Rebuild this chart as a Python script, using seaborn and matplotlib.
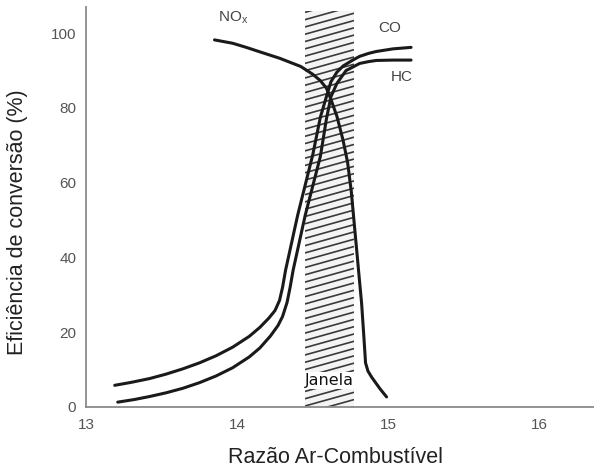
import numpy as np
import pandas as pd
import matplotlib
matplotlib.use("Agg")
import matplotlib.pyplot as plt
from matplotlib.patches import Rectangle
import seaborn as sns

# Conversion efficiency (%) of a three-way catalyst versus air-fuel ratio
nox_x = [13.85, 13.97, 14.06, 14.15, 14.28, 14.42, 14.50, 14.55, 14.59, 14.62,
         14.66, 14.70, 14.73, 14.755, 14.78, 14.805, 14.823, 14.838, 14.849,
         14.865, 14.889, 14.944, 14.988]
nox_y = [98.2, 97.3, 96.2, 95.0, 93.3, 91.1, 89.0, 87.3, 85.3, 82.3,
         77.7, 71.4, 65.5, 57.5, 46.5, 35.5, 27.7, 18.7, 11.8,
         9.6, 8.0, 4.9, 2.7]

co_x = [13.19, 13.30, 13.42, 13.53, 13.64, 13.75, 13.86, 13.97, 14.08, 14.15,
        14.21, 14.25, 14.28, 14.30, 14.32, 14.40, 14.50, 14.55, 14.59, 14.62,
        14.66, 14.70, 14.76, 14.81, 14.87, 14.92, 15.03, 15.15]
co_y = [5.8, 6.6, 7.6, 8.8, 10.2, 11.8, 13.7, 16.0, 18.9, 21.3,
        23.8, 25.8, 28.5, 32.0, 36.6, 51.3, 67.5, 77.5, 83.0, 87.0,
        89.6, 91.2, 92.7, 93.8, 94.6, 95.1, 95.8, 96.2]

hc_x = [13.21, 13.32, 13.42, 13.53, 13.64, 13.75, 13.86, 13.97, 14.08, 14.15,
        14.22, 14.27, 14.30, 14.33, 14.35, 14.37, 14.45, 14.55, 14.59, 14.62,
        14.66, 14.72, 14.81, 14.87, 14.92, 15.03, 15.15]
hc_y = [1.3, 2.0, 2.8, 3.8, 5.0, 6.5, 8.3, 10.5, 13.4, 15.8,
        19.0, 21.8, 24.2, 28.0, 32.0, 36.6, 51.3, 67.0, 77.0, 83.0,
        86.6, 90.0, 91.9, 92.4, 92.7, 92.8, 92.8]

window = [14.45, 14.77]     # stoichiometric operating window
window_top = 106

x_ticks = [13, 14, 15, 16]
y_ticks = [0, 20, 40, 60, 80, 100]

df = pd.concat([
    pd.DataFrame({"afr": nox_x, "eff": nox_y, "gas": "NOx"}),
    pd.DataFrame({"afr": co_x, "eff": co_y, "gas": "CO"}),
    pd.DataFrame({"afr": hc_x, "eff": hc_y, "gas": "HC"}),
], ignore_index=True)

sns.set_style("white")
plt.rcParams["font.family"] = ["Liberation Sans", "DejaVu Sans"]

fig = plt.figure(figsize=(5.94, 4.72), dpi=100)
ax = fig.add_axes([86 / 594, 65 / 472, 508 / 594, 400 / 472])
ax.set_xlim(13, 16.36)
ax.set_ylim(0, 107)

# hatched window
rect = Rectangle((window[0], 0), window[1] - window[0], window_top,
                 facecolor="#f4f4f4", edgecolor="none", zorder=1)
ax.add_patch(rect)
slope = 11.3          # hatch rise per unit of air-fuel ratio
step = 1.95           # vertical spacing between hatch lines
w = window[1] - window[0]
for y0 in np.arange(-slope * w, window_top + step, step):
    ln, = ax.plot([window[0], window[1]], [y0, y0 + slope * w],
                  color="#3a3a3a", lw=1.2, zorder=2, solid_capstyle="butt")
    ln.set_clip_path(rect)

sns.lineplot(data=df, x="afr", y="eff", hue="gas", units="gas",
             estimator=None, sort=False, legend=False,
             palette={"NOx": "#1a1a1a", "CO": "#1a1a1a", "HC": "#1a1a1a"},
             lw=2.2, ax=ax, zorder=3)
for line in ax.get_lines():
    line.set_solid_joinstyle("round")
    line.set_solid_capstyle("round")

lab_kw = dict(color="#444444", fontsize=11, ha="center", va="center")
ax.text(13.97, 104.1, r"NO$_\mathregular{x}$", **lab_kw)
ax.text(15.01, 101.5, "CO", **lab_kw)
ax.text(15.09, 88.2, "HC", **lab_kw)
ax.text(np.mean(window), 7.1, "Janela", fontsize=11.5, color="#111111",
        family="DejaVu Sans", ha="center", va="center", zorder=4,
        bbox=dict(facecolor="white", edgecolor="none", pad=1.0))

ax.set_xticks(x_ticks)
ax.set_yticks(y_ticks)
ax.tick_params(axis="both", direction="in", colors="#8a8a8a",
               labelcolor="#555555", labelsize=11, width=1.1)
ax.tick_params(axis="y", length=7.2, pad=7)
ax.tick_params(axis="x", length=8, pad=8)

for side in ("top", "right"):
    ax.spines[side].set_visible(False)
for side in ("left", "bottom"):
    ax.spines[side].set_color("#8a8a8a")
    ax.spines[side].set_linewidth(1.3)

ax.set_xlabel("Razão Ar-Combustível", fontsize=15.5, color="#222222")
ax.set_ylabel("Eficiência de conversão (%)", fontsize=15.5, color="#222222")
ax.xaxis.set_label_coords(0.492, -0.10)
ax.yaxis.set_label_coords(-0.115, 0.4625)

fig.savefig("out.png", dpi=100)
